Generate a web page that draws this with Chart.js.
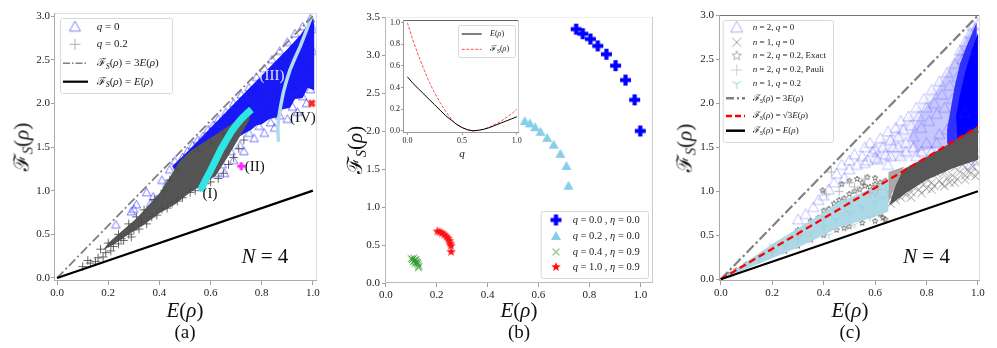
<!DOCTYPE html>
<html><head><meta charset="utf-8">
<script src="https://cdn.jsdelivr.net/npm/chart.js@4.4.1/dist/chart.umd.min.js"></script>
<style>
body{margin:0;background:#fff;width:997px;height:348px;overflow:hidden;position:relative;}
canvas{position:absolute;}
.t{position:absolute;font-family:"Liberation Serif","DejaVu Serif",serif;color:#111;white-space:nowrap;line-height:1;transform:translate(-50%,-50%);}
.r{transform:translate(-50%,-50%) rotate(-90deg);}
sub{font-size:0.7em;vertical-align:-0.28em;line-height:0;}
</style></head>
<body>
<canvas id="ca" width="330" height="348" style="left:0;top:0"></canvas>
<canvas id="cb" width="330" height="348" style="left:330px;top:0"></canvas>
<canvas id="cbi" width="140" height="150" style="left:383px;top:10px"></canvas>
<canvas id="cc" width="337" height="348" style="left:660px;top:0"></canvas>

<div class="t" style="left:185px;top:310px;font-size:21px"><i>E</i>(<i>ρ</i>)</div>
<div class="t" style="left:519px;top:310px;font-size:21px"><i>E</i>(<i>ρ</i>)</div>
<div class="t" style="left:850px;top:310px;font-size:21px"><i>E</i>(<i>ρ</i>)</div>
<div class="t r" style="left:22px;top:147px;font-size:21px">ℱ<sub><i>S</i></sub>(<i>ρ</i>)</div>
<div class="t r" style="left:355px;top:150px;font-size:21px">ℱ<sub><i>S</i></sub>(<i>ρ</i>)</div>
<div class="t r" style="left:685px;top:148px;font-size:21px">ℱ<sub><i>S</i></sub>(<i>ρ</i>)</div>
<div class="t" style="left:185px;top:331px;font-size:19px">(a)</div>
<div class="t" style="left:519px;top:331px;font-size:19px">(b)</div>
<div class="t" style="left:850px;top:331px;font-size:19px">(c)</div>
<div class="t" style="left:462px;top:153px;font-size:11px"><i>q</i></div>

<script>
// ---------------- DATA ----------------
const TICKS_01 = [0.0, 0.2, 0.4, 0.6, 0.8, 1.0];
const TICKS_F3 = [0.0, 0.5, 1.0, 1.5, 2.0, 2.5, 3.0];
const TICKS_F35 = [0.0, 0.5, 1.0, 1.5, 2.0, 2.5, 3.0, 3.5];
const TICKS_INSET_X = [0.0, 0.5, 1.0];
const TICKS_INSET_Y = [0.0, 0.2, 0.4, 0.6, 0.8, 1.0];

// panel (a)
const a_q0_env = [[0.45,1.28],[0.5,1.42],[0.55,1.57],[0.6,1.72],[0.65,1.87],[0.7,2.02],[0.75,2.17],[0.8,2.32],[0.85,2.47],[0.9,2.62],[0.95,2.78],[0.99,2.94],[1.0,2.99],[1.005,2.9],[1.005,2.15],[0.98,2.18],[0.96,2.06],[0.93,2.05],[0.91,1.95],[0.88,1.93],[0.86,1.84],[0.83,1.82],[0.8,1.76],[0.78,1.75],[0.76,1.7],[0.7,1.6],[0.64,1.45],[0.58,1.28],[0.52,1.2],[0.47,1.2]];
const a_q0_pts = [[0.23,0.61],[0.29,0.76],[0.31,0.84],[0.30,0.79],[0.366,0.855],[0.376,0.93],[0.39,0.90],[0.35,0.98],[0.41,1.12],[0.43,1.08],[0.44,1.24],[0.467,1.2],[0.46,1.34],[0.50,1.29],[0.51,1.45],[0.49,1.38],[0.53,1.52],[0.55,1.58],[0.57,1.62],[0.59,1.7],[0.61,1.75],[0.63,1.82],[0.66,1.9],[0.69,2.0],[0.72,2.1],[0.75,2.18],[0.78,2.3],[0.81,2.4],[0.84,2.5],[0.87,2.6],[0.9,2.7],[0.93,2.8],[0.96,2.88],[0.99,2.97],[0.62,1.2],[0.645,1.3],[0.655,1.2],[0.68,1.45],[0.69,1.35],[0.715,1.52],[0.73,1.45],[0.75,1.66],[0.77,1.6],[0.79,1.74],[0.81,1.66],[0.835,1.78],[0.85,1.72],[0.87,1.86],[0.9,1.82],[0.92,1.96],[0.94,1.9],[0.96,2.08],[0.975,2.0],[0.99,2.16],[0.98,2.4],[0.55,1.4],[0.6,1.5],[0.65,1.6],[0.7,1.85],[0.75,1.95],[0.8,2.05],[0.85,2.2],[0.9,2.35],[0.95,2.5],[1.0,2.6],[0.62,1.65],[0.68,1.75],[0.73,2.0],[0.78,2.15],[0.83,2.3],[0.88,2.45],[0.93,2.6],[0.97,2.7],[1.0,2.85],[0.82,1.95],[0.87,2.1],[0.92,2.2],[0.96,2.3]];
const a_q02_env = [[0.2,0.4],[0.27,0.58],[0.31,0.68],[0.36,0.84],[0.4,0.97],[0.45,1.2],[0.48,1.34],[0.52,1.45],[0.57,1.55],[0.63,1.66],[0.69,1.78],[0.74,1.89],[0.76,1.93],[0.75,1.8],[0.72,1.65],[0.67,1.4],[0.62,1.17],[0.57,1.07],[0.52,0.98],[0.46,0.84],[0.4,0.74],[0.34,0.61],[0.28,0.5],[0.22,0.38],[0.18,0.32]];
const a_q02_pts = [[0.13,0.17],[0.15,0.19],[0.16,0.23],[0.18,0.24],[0.19,0.29],[0.21,0.31],[0.22,0.36],[0.24,0.39],[0.25,0.45],[0.26,0.43],[0.28,0.5],[0.29,0.47],[0.3,0.55],[0.32,0.56],[0.33,0.64],[0.35,0.62],[0.37,0.7],[0.39,0.72],[0.41,0.79],[0.43,0.8],[0.45,0.86],[0.47,0.88],[0.49,0.92],[0.52,0.98],[0.54,1.0],[0.56,1.04],[0.58,1.08],[0.6,1.1],[0.63,1.14],[0.65,1.2],[0.67,1.3],[0.69,1.38],[0.71,1.48],[0.73,1.58],[0.34,0.78],[0.38,0.9],[0.42,1.0],[0.44,1.12],[0.47,1.25],[0.24,0.5],[0.28,0.62],[0.31,0.7],[0.2,0.4],[0.17,0.33],[0.55,1.45],[0.6,1.55],[0.65,1.65],[0.7,1.76],[0.1,0.13],[0.12,0.2]];
const a_I = [[0.56,1.0],[0.58,1.12],[0.6,1.23],[0.62,1.35],[0.64,1.47],[0.66,1.57],[0.68,1.67],[0.7,1.75],[0.72,1.82],[0.74,1.88],[0.76,1.93]];
const a_III = [[0.865,1.56],[0.863,1.7],[0.865,1.81],[0.874,1.97],[0.884,2.12],[0.896,2.25],[0.91,2.38],[0.93,2.52],[0.95,2.65],[0.97,2.8],[0.985,2.92],[0.995,2.99]];
const a_II = [[0.72,1.28]];
const a_IV = [[0.995,2.0]];
const a_line3E = [[0,0],[1,3]];
const a_lineE = [[0,0],[1,1]];

// panel (b)
const b_q0 = [[0.748,3.34],[0.774,3.28],[0.804,3.21],[0.833,3.12],[0.867,3.01],[0.903,2.86],[0.942,2.67],[0.978,2.41],[1.0,2.0]];
const b_q02 = [[0.546,2.13],[0.566,2.10],[0.587,2.05],[0.608,1.99],[0.634,1.91],[0.660,1.82],[0.686,1.70],[0.710,1.54],[0.718,1.28]];
const b_q04 = [[0.10,0.32],[0.105,0.31],[0.11,0.33],[0.112,0.30],[0.115,0.29],[0.118,0.31],[0.12,0.28],[0.122,0.27],[0.125,0.26],[0.127,0.24],[0.13,0.22],[0.128,0.20],[0.108,0.28],[0.116,0.26]];
const b_q1 = [[0.203,0.68],[0.212,0.67],[0.221,0.655],[0.23,0.635],[0.238,0.61],[0.245,0.585],[0.25,0.555],[0.254,0.52],[0.256,0.49],[0.257,0.41]];
const inset_q = [0,0.05,0.1,0.15,0.2,0.25,0.3,0.35,0.4,0.45,0.5,0.55,0.6,0.65,0.7,0.75,0.8,0.85,0.9,0.95,1.0];
const inset_E = [0.5,0.44,0.39,0.34,0.29,0.24,0.19,0.14,0.1,0.06,0.03,0.01,0.0,0.005,0.015,0.03,0.05,0.07,0.09,0.11,0.13];
const inset_F = [1.0,0.84,0.7,0.57,0.45,0.35,0.26,0.18,0.11,0.06,0.03,0.01,0.0,0.005,0.015,0.035,0.06,0.085,0.12,0.155,0.2];

// panel (c)
const c_n2q0_faint = [[0.97,2.85],[0.88,2.4],[0.78,2.0],[0.68,1.7],[0.58,1.5],[0.6,1.3],[0.75,1.38],[1.0,1.38]];
const c_n2q0_mid = [[0.99,2.93],[0.93,2.62],[0.87,2.3],[0.82,2.05],[0.77,1.85],[0.73,1.62],[0.76,1.45],[0.86,1.5],[1.0,1.4]];
const c_n2q0_dense = [[0.995,2.92],[0.96,2.68],[0.93,2.45],[0.91,2.2],[0.895,1.95],[0.88,1.7],[0.88,1.55],[0.94,1.45],[1.0,1.35]];
const c_n2q0_core = [[1.0,2.8],[0.975,2.6],[0.95,2.35],[0.93,2.1],[0.915,1.85],[0.92,1.6],[1.0,1.5]];
const c_n2q0_pts = [[0.3,0.68],[0.33,0.74],[0.36,0.82],[0.38,0.9],[0.4,0.95],[0.42,1.02],[0.44,1.1],[0.45,1.2],[0.47,1.3],[0.48,1.15],[0.5,1.25],[0.5,1.35],[0.52,1.42],[0.53,1.3],[0.55,1.4],[0.56,1.5],[0.57,1.35],[0.58,1.55],[0.6,1.48],[0.6,1.38],[0.62,1.6],[0.63,1.5],[0.64,1.42],[0.65,1.68],[0.66,1.58],[0.67,1.5],[0.68,1.72],[0.69,1.62],[0.7,1.8],[0.71,1.7],[0.72,1.55],[0.73,1.85],[0.74,1.75],[0.75,1.62],[0.76,1.95],[0.77,1.85],[0.78,1.72],[0.79,2.05],[0.8,1.95],[0.81,1.8],[0.82,2.15],[0.83,2.0],[0.84,1.88],[0.85,2.25],[0.86,2.1],[0.87,1.95],[0.88,2.35],[0.89,2.2],[0.9,2.05],[0.91,2.45],[0.92,2.3],[0.93,2.6],[0.94,2.5],[0.95,2.7],[0.96,2.6],[0.97,2.8],[0.98,2.88],[0.99,2.75],[1.0,2.9],[0.65,1.3],[0.7,1.4],[0.75,1.5],[0.8,1.55],[0.85,1.65],[0.9,1.8],[0.95,1.9],[1.0,1.35],[0.98,1.5],[0.95,1.45],[0.92,1.4],[0.97,1.3],[0.72,1.45],[0.78,1.45],[0.84,1.55],[0.88,1.7],[0.56,1.32],[0.59,1.45],[0.61,1.36],[0.66,1.4],[0.69,1.5],[0.76,1.4],[0.82,1.45]];
const c_n1q0_dense = [[0.655,0.84],[0.68,1.08],[0.71,1.25],[0.8,1.39],[0.9,1.56],[1.0,1.74],[1.0,1.36],[0.9,1.26],[0.8,1.13],[0.72,0.98]];
const c_n1q0_pts = [[0.66,0.86],[0.68,0.9],[0.7,0.93],[0.72,0.96],[0.74,0.99],[0.75,1.05],[0.77,1.02],[0.79,1.08],[0.8,1.03],[0.82,1.1],[0.83,1.06],[0.85,1.12],[0.86,1.08],[0.88,1.15],[0.89,1.1],[0.9,1.18],[0.92,1.14],[0.93,1.22],[0.95,1.18],[0.96,1.25],[0.97,1.2],[0.98,1.28],[1.0,1.22],[0.99,1.35],[0.94,1.3],[0.87,1.22],[0.8,1.14],[0.73,1.05],[0.7,1.0],[0.76,1.12],[0.84,1.2],[0.91,1.27],[0.97,1.38],[0.68,0.97],[0.66,0.93],[0.7,1.2],[0.75,1.25],[0.8,1.33],[0.85,1.42],[0.9,1.5],[0.95,1.6],[1.0,1.68],[0.78,1.2],[0.88,1.38],[0.96,1.5],[0.74,0.93],[0.78,0.98],[0.82,1.02],[0.87,1.06],[0.91,1.1],[0.95,1.13],[0.99,1.17]];
const c_exact_pts = [[0.03,0.05],[0.06,0.1],[0.1,0.17],[0.14,0.22],[0.18,0.3],[0.22,0.38],[0.25,0.44],[0.28,0.5],[0.3,0.56],[0.33,0.6],[0.35,0.66],[0.38,0.7],[0.4,0.78],[0.42,0.8],[0.44,0.86],[0.46,0.9],[0.48,0.92],[0.5,0.97],[0.52,1.0],[0.54,1.02],[0.56,1.06],[0.58,1.05],[0.6,1.08],[0.62,1.1],[0.64,1.12],[0.396,1.01],[0.47,1.08],[0.5,1.12],[0.53,1.14],[0.55,1.1],[0.57,1.16],[0.6,1.15],[0.35,0.45],[0.4,0.5],[0.45,0.56],[0.5,0.6],[0.55,0.64],[0.6,0.66],[0.63,0.7],[0.64,0.68],[0.3,0.38],[0.25,0.32],[0.62,0.74],[0.48,0.58]];
const c_pauli_env = [[0.652,0.88],[0.652,1.22],[0.712,1.28],[0.69,1.13],[0.67,1.0]];
const c_pauli_pts = [[0.43,1.22],[0.5,1.1],[0.41,0.96],[0.46,1.0],[0.56,1.14],[0.52,1.05],[0.58,0.98],[0.61,1.02],[0.2,0.32],[0.3,0.5]];
const c_n1q02_env = [[0.0,0.0],[0.1,0.2],[0.2,0.4],[0.3,0.58],[0.4,0.76],[0.46,0.88],[0.52,0.95],[0.59,1.04],[0.652,1.13],[0.652,0.77],[0.59,0.7],[0.54,0.66],[0.46,0.59],[0.4,0.5],[0.3,0.36],[0.2,0.24],[0.1,0.12]];
const c_n1q02_pts = [[0.05,0.07],[0.1,0.16],[0.15,0.22],[0.2,0.3],[0.25,0.38],[0.3,0.45],[0.35,0.52],[0.4,0.6],[0.45,0.68],[0.5,0.75],[0.55,0.82],[0.6,0.88],[0.63,0.92],[0.2,0.38],[0.3,0.54],[0.4,0.7],[0.5,0.86],[0.6,0.96],[0.65,1.0],[0.42,0.5],[0.52,0.62],[0.58,0.7]];
const c_line3E = [[0,0],[1,3]];
const c_lineSqrt3E = [[0,0],[1,1.732]];
const c_lineE = [[0,0],[1,1]];

// labels
const LEG_A = ['$q$ = 0', '$q$ = 0.2', 'ℱ_S($ρ$) = 3$E$($ρ$)', 'ℱ_S($ρ$) = $E$($ρ$)'];
const LEG_B = ['$q$ = 0.0 , $η$ = 0.0', '$q$ = 0.2 , $η$ = 0.0', '$q$ = 0.4 , $η$ = 0.9', '$q$ = 1.0 , $η$ = 0.9'];
const LEG_INSET = ['$E$($ρ$)', 'ℱ_S($ρ$)'];
const LEG_C = ['$n$ = 2, $q$ = 0', '$n$ = 1, $q$ = 0', '$n$ = 2, $q$ = 0.2, Exact', '$n$ = 2, $q$ = 0.2, Pauli', '$n$ = 1, $q$ = 0.2', 'ℱ_S($ρ$) = 3$E$($ρ$)', 'ℱ_S($ρ$) = √3$E$($ρ$)', 'ℱ_S($ρ$) = $E$($ρ$)'];

// ---------------- HELPERS ----------------
const FONT = '"Liberation Serif","DejaVu Serif",serif';
const P = arr => arr.map(p => ({x: p[0], y: p[1]}));
const PQ = (xs, ys) => xs.map((v, i) => ({x: v, y: ys[i]}));

function parseRich(s){
  const out=[]; let it=false;
  for(let i=0;i<s.length;i++){
    const ch=s[i];
    if(ch==='$'){it=!it;continue;}
    if(ch==='_'){out.push({t:s[i+1],i:true,sub:true});i++;continue;}
    const last=out[out.length-1];
    if(last && last.i===it && !last.sub) last.t+=ch; else out.push({t:ch,i:it,sub:false});
  }
  return out;
}
function drawRich(ctx,x,y,str,size,color,align){
  const segs=parseRich(str); let w=0;
  const parts=segs.map(s=>{const fs=s.sub?size*0.72:size;const f=(s.i?'italic ':'')+fs+'px '+FONT;ctx.font=f;const wd=ctx.measureText(s.t).width;w+=wd;return {f,t:s.t,wd,dy:s.sub?size*0.3:0};});
  let cx=align==='center'?x-w/2:(align==='right'?x-w:x);
  ctx.save();ctx.fillStyle=color;ctx.textBaseline='middle';ctx.textAlign='left';
  parts.forEach(p=>{ctx.font=p.f;ctx.fillText(p.t,cx,y+p.dy);cx+=p.wd;});
  ctx.restore();
}
function mark(kind,size,stroke,fill,lw){
  const S=Math.ceil(size+4), c=document.createElement('canvas'); c.width=S; c.height=S;
  const g=c.getContext('2d'), r=size/2, cx=S/2, cy=S/2;
  g.lineWidth=lw||1; g.strokeStyle=stroke||'rgba(0,0,0,0)'; g.fillStyle=fill||'rgba(0,0,0,0)';
  g.lineJoin='miter'; g.beginPath();
  if(kind==='tri'){g.moveTo(cx,cy-r);g.lineTo(cx+r,cy+r*0.8);g.lineTo(cx-r,cy+r*0.8);g.closePath();}
  else if(kind==='plus'){g.moveTo(cx-r,cy);g.lineTo(cx+r,cy);g.moveTo(cx,cy-r);g.lineTo(cx,cy+r);}
  else if(kind==='x'){const q=r*0.75;g.moveTo(cx-q,cy-q);g.lineTo(cx+q,cy+q);g.moveTo(cx+q,cy-q);g.lineTo(cx-q,cy+q);}
  else if(kind==='star'){for(let k=0;k<10;k++){const a=-Math.PI/2+k*Math.PI/5, rr=k%2?r*0.42:r;const px=cx+rr*Math.cos(a),py=cy+rr*Math.sin(a);k?g.lineTo(px,py):g.moveTo(px,py);}g.closePath();}
  else if(kind==='P'||kind==='X'){const t=r*0.38;g.translate(cx,cy);if(kind==='X')g.rotate(Math.PI/4);
    const pts=[[-t,-r],[t,-r],[t,-t],[r,-t],[r,t],[t,t],[t,r],[-t,r],[-t,t],[-r,t],[-r,-t],[-t,-t]];
    pts.forEach((p,k)=>k?g.lineTo(p[0],p[1]):g.moveTo(p[0],p[1]));g.closePath();}
  else if(kind==='tridown'){g.moveTo(cx,cy);g.lineTo(cx,cy+r);g.moveTo(cx,cy);g.lineTo(cx-r*0.87,cy-r*0.5);g.moveTo(cx,cy);g.lineTo(cx+r*0.87,cy-r*0.5);}
  if(fill) g.fill(); if(stroke) g.stroke();
  return c;
}
function axis(min,max,ticks,o){
  return {type:'linear',min,max,
    afterBuildTicks:s=>{s.ticks=ticks.map(v=>({value:v}));},
    afterFit:s=>{if(o.w!=null)s.width=o.w;if(o.h!=null)s.height=o.h;},
    ticks:{autoSkip:false,maxRotation:0,padding:o.pad,color:'#222',font:{family:FONT,size:o.fs},callback:v=>Number(v).toFixed(1)},
    grid:{display:true,drawOnChartArea:false,drawTicks:true,tickLength:o.tl,color:'#888',lineWidth:0.8},
    border:{display:false}};
}
function sc(data,img){return {type:'scatter',data:P(data),pointStyle:img,pointRadius:3,pointHoverRadius:3,showLine:false};}
function ln(data,color,w,dash){return {type:'line',data:data,borderColor:color,borderWidth:w,borderDash:dash||[],pointRadius:0,fill:false,tension:0,borderCapStyle:'butt',borderJoinStyle:'round'};}
function poly(data,color){return {type:'line',data:P(data),borderColor:'rgba(0,0,0,0)',borderWidth:1,pointRadius:0,fill:false,polyFill:color};}

const polyPlugin={id:'poly',beforeDatasetDraw(chart,args){
  const ds=chart.data.datasets[args.index]; if(!ds.polyFill) return;
  const pts=args.meta.data, ctx=chart.ctx, a=chart.chartArea;
  ctx.save(); ctx.beginPath(); ctx.rect(a.left,a.top,a.right-a.left,a.bottom-a.top); ctx.clip();
  ctx.beginPath(); pts.forEach((p,i)=>i?ctx.lineTo(p.x,p.y):ctx.moveTo(p.x,p.y)); ctx.closePath();
  ctx.fillStyle=ds.polyFill; ctx.fill(); ctx.restore();
}};
function deco(cfg){return {id:'deco',
  beforeDraw(chart){if(cfg.bg){const a=chart.chartArea,ctx=chart.ctx;ctx.save();ctx.fillStyle=cfg.bg;ctx.fillRect(a.left,a.top,a.right-a.left,a.bottom-a.top);ctx.restore();}},
  afterDraw(chart){
    const ctx=chart.ctx,a=chart.chartArea,xs=chart.scales.x,ys=chart.scales.y,f=cfg.frame;
    ctx.save(); ctx.lineWidth=1;
    const seg=(x0,y0,x1,y1,c)=>{ctx.strokeStyle=c;ctx.beginPath();ctx.moveTo(x0,y0);ctx.lineTo(x1,y1);ctx.stroke();};
    seg(a.left,a.top+0.5,a.right,a.top+0.5,f[0]); seg(a.right-0.5,a.top,a.right-0.5,a.bottom,f[1]);
    seg(a.left,a.bottom-0.5,a.right,a.bottom-0.5,f[2]); seg(a.left+0.5,a.top,a.left+0.5,a.bottom,f[3]);
    (cfg.ann||[]).forEach(t=>drawRich(ctx,xs.getPixelForValue(t.x),ys.getPixelForValue(t.y),t.s,t.size,t.color,t.align||'center'));
    const L=cfg.legend;
    if(L){
      ctx.fillStyle='rgba(255,255,255,0.85)'; ctx.strokeStyle='#d9d9d9'; ctx.lineWidth=1;
      ctx.beginPath(); ctx.roundRect(L.x+0.5,L.y+0.5,L.w,L.h,2); ctx.fill(); ctx.stroke();
      L.items.forEach((it,k)=>{const y=L.rows[k];
        if(it.line){ctx.save();ctx.strokeStyle=it.color;ctx.lineWidth=it.w;ctx.setLineDash(it.dash||[]);ctx.beginPath();ctx.moveTo(L.lx0,y);ctx.lineTo(L.lx1,y);ctx.stroke();ctx.restore();}
        else ctx.drawImage(it.img,L.sx-it.img.width/2,y-it.img.height/2);
        drawRich(ctx,L.tx,y,it.label,L.fs,'#222','left');});
    }
    ctx.restore();
  }};}
function mk(id,datasets,x,y,pad,cfg){
  datasets.forEach((d,i)=>d.order=datasets.length-i);
  return new Chart(document.getElementById(id),{type:'scatter',data:{datasets},
    options:{responsive:false,animation:false,events:[],layout:{padding:pad},
      plugins:{legend:{display:false},tooltip:{enabled:false}},scales:{x,y}},
    plugins:[polyPlugin,deco(cfg)]});
}

// ---------------- MARKERS ----------------
const mA_tri = mark('tri',8.5,'rgba(20,20,255,0.8)',null,0.7);
const mA_plus = mark('plus',8.5,'rgba(75,75,75,0.85)',null,1);
const mA_II = mark('P',8,null,'#ff22ff');
const mA_IV = mark('X',8,null,'#ff2020');
const mB_P = mark('P',11,null,'#0000ff');
const mB_tri = mark('tri',10,null,'#87ceeb');
const mB_x = mark('x',9,'#2e9a2e',null,1);
const mB_star = mark('star',10,null,'#ff1010');
const mC_tri = mark('tri',11,'rgba(50,50,255,0.5)',null,0.6);
const mC_x = mark('x',11,'rgba(90,90,90,0.75)',null,0.8);
const mC_star = mark('star',6,'rgba(30,30,30,0.8)',null,0.7);
const mC_plus = mark('plus',9,'#bbbbbb',null,1);
const mC_tdown = mark('tridown',8,'#9ccfe0',null,1);

// ---------------- PANEL (a) ----------------
mk('ca',[
  poly(a_q0_env,'rgba(8,8,245,0.93)'),
  sc(a_q0_pts,mA_tri),
  poly(a_q02_env,'#555555'),
  sc(a_q02_pts,mA_plus),
  ln(P(a_III),'#b0dcec',3.5),
  ln(P(a_I),'#2ee6e6',7),
  sc(a_II,mA_II),
  sc(a_IV,mA_IV),
  ln(P(a_line3E),'#808080',1.8,[9,3,2,3]),
  ln(P(a_lineE),'#000000',2.2)
], axis(-0.012,1.016,TICKS_01,{h:67,pad:2,fs:11,tl:4}), axis(-0.035,3.035,TICKS_F3,{w:54,pad:1,fs:11,tl:3}),
{left:0,top:13,right:13,bottom:0},
{frame:['#dddddd','#dddddd','#aaaaaa','#aaaaaa'],
 ann:[{x:0.598,y:0.962,s:'(I)',size:15,color:'#111'},{x:0.734,y:1.27,s:'(II)',size:15,color:'#111',align:'left'},
      {x:0.84,y:2.31,s:'(III)',size:15,color:'#e4e4ff'},{x:0.961,y:1.83,s:'(IV)',size:15,color:'#111'},
      {x:0.8125,y:0.24,s:'$N$ = 4',size:21,color:'#111'}],
 legend:{x:60,y:18,w:112,h:75,rows:[26.7,44.3,63.3,81.7],sx:75,lx0:63,lx1:88,tx:96.7,fs:11,
   items:[{img:mark('tri',11,'#6060ff',null,0.8),label:LEG_A[0]},{img:mark('plus',11,'#b0b0b0',null,1),label:LEG_A[1]},
          {line:true,color:'#808080',w:1.5,dash:[7,2,1.5,2],label:LEG_A[2]},{line:true,color:'#000',w:2.2,label:LEG_A[3]}]}});

// ---------------- PANEL (b) ----------------
mk('cb',[
  sc(b_q0,mB_P), sc(b_q02,mB_tri), sc(b_q04,mB_x), sc(b_q1,mB_star)
], axis(-0.003,1.05,TICKS_01,{h:65,pad:2,fs:11,tl:4}), axis(0,3.5,TICKS_F35,{w:55,pad:2,fs:11,tl:3}),
{left:0,top:17,right:7,bottom:0},
{frame:['#eeeeee','#cccccc','#bbbbbb','#bbbbbb'],
 legend:{x:210.7,y:211,w:107.3,h:67,rows:[220,236,252,267],sx:226,tx:242.7,fs:10.5,
   items:[{img:mB_P,label:LEG_B[0]},{img:mB_tri,label:LEG_B[1]},{img:mB_x,label:LEG_B[2]},{img:mB_star,label:LEG_B[3]}]}});

mk('cbi',[
  ln(PQ(inset_q,inset_F),'#ff4040',0.9,[3,1.5]),
  ln(PQ(inset_q,inset_E),'#000000',1)
], axis(-0.04,1.02,TICKS_INSET_X,{h:27,pad:1,fs:8,tl:2}), axis(-0.02,1.025,TICKS_INSET_Y,{w:20,pad:1,fs:8,tl:2}),
{left:0,top:10,right:4,bottom:0},
{bg:'#ffffff',frame:['#666666','#cccccc','#999999','#999999'],
 legend:{x:75,y:15,w:57,h:32,rows:[24,39.3],lx0:78.7,lx1:98.7,tx:107,fs:8,
   items:[{line:true,color:'#000',w:1,label:LEG_INSET[0]},{line:true,color:'#ff4040',w:0.9,dash:[3,1.5],label:LEG_INSET[1]}]}});

// ---------------- PANEL (c) ----------------
mk('cc',[
  poly(c_n2q0_faint,'rgba(90,90,255,0.08)'),
  poly(c_n2q0_mid,'rgba(50,50,255,0.22)'),
  poly(c_n2q0_dense,'rgba(10,10,255,0.80)'),
  poly(c_n2q0_core,'#0000ff'),
  sc(c_n2q0_pts,mC_tri),
  poly(c_n1q0_dense,'#575757'),
  sc(c_n1q0_pts,mC_x),
  sc(c_exact_pts,mC_star),
  poly(c_n1q02_env,'#add8e6'),
  sc(c_n1q02_pts,mC_tdown),
  poly(c_pauli_env,'#a9a9a9'),
  sc(c_pauli_pts,mC_plus),
  ln(P(c_line3E),'#808080',2.2,[10,3,2.5,3]),
  ln(P(c_lineSqrt3E),'#ff0000',2.3,[7,4]),
  ln(P(c_lineE),'#000000',2)
], axis(-0.007,1.008,TICKS_01,{h:67,pad:2,fs:11,tl:4}), axis(-0.02,3.005,TICKS_F3,{w:59,pad:2,fs:11,tl:3}),
{left:0,top:15,right:17,bottom:0},
{frame:['#777777','#dddddd','#aaaaaa','#aaaaaa'],
 ann:[{x:0.80,y:0.25,s:'$N$ = 4',size:21,color:'#111'}],
 legend:{x:62.7,y:20,w:110.3,h:122,rows:[27.3,42.3,55.7,70,84,98.3,116,130.7],sx:76.7,lx0:66,lx1:85,tx:92.7,fs:9,
   items:[{img:mark('tri',12,'#9a9aff',null,0.8),label:LEG_C[0]},{img:mark('x',12,'#a0a0a0',null,1),label:LEG_C[1]},
          {img:mark('star',10,'#999999',null,0.8),label:LEG_C[2]},{img:mark('plus',11,'#cccccc',null,1),label:LEG_C[3]},
          {img:mark('tridown',10,'#add8e6',null,1.2),label:LEG_C[4]},
          {line:true,color:'#808080',w:2.5,dash:[8,3,2,3],label:LEG_C[5]},
          {line:true,color:'#ff0000',w:2.5,dash:[6,3],label:LEG_C[6]},
          {line:true,color:'#000',w:2.5,label:LEG_C[7]}]}});
</script>
</body></html>
